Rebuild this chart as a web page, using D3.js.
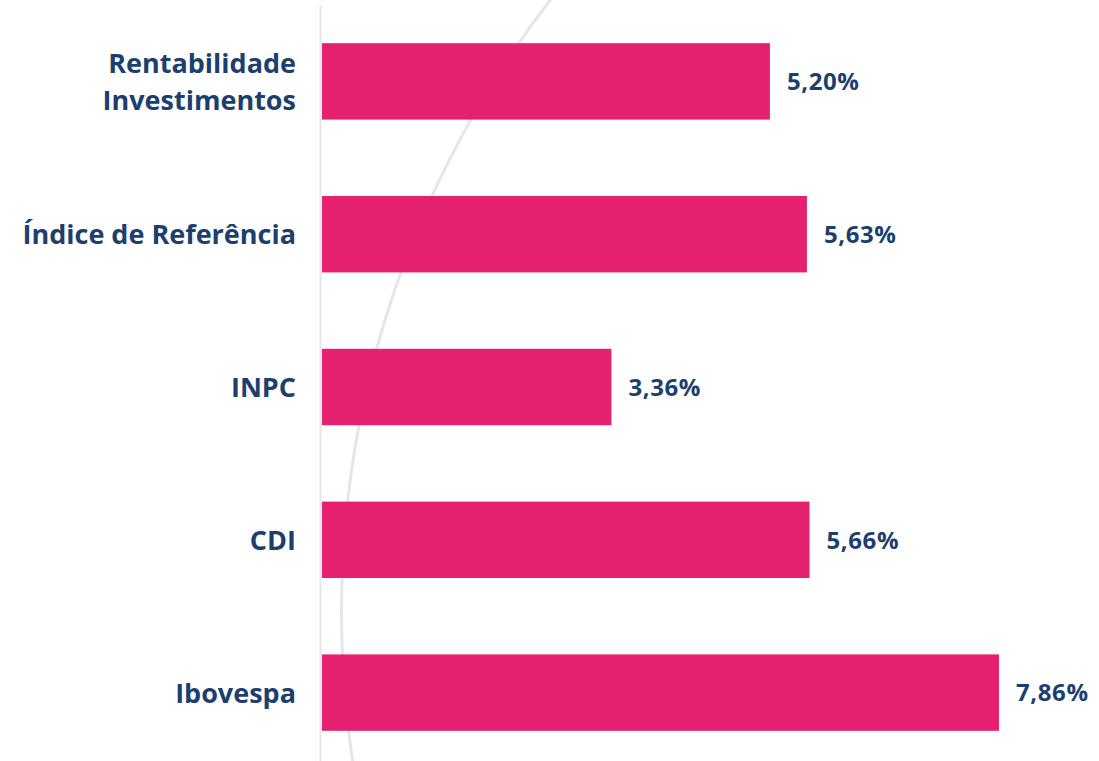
<!DOCTYPE html>
<html>
<head>
<meta charset="utf-8">
<script src="https://cdn.jsdelivr.net/npm/d3@7"></script>
<style>
	body { margin: 0; background: #ffffff; }
	.catLabel { font-family: "Open Sans", sans-serif; font-weight: 700; font-size: 27px; fill: #1d3f6e; }
	.valLabel { font-family: "Open Sans", sans-serif; font-weight: 700; font-size: 24px; letter-spacing: 0.6px; fill: #1d3f6e; }
</style>
</head>
<body>
<script>

//Chart values
let categories = [["Rentabilidade", "Investimentos"], ["Índice de Referência"], ["INPC"], ["CDI"], ["Ibovespa"]];
let values = [5.20, 5.63, 3.36, 5.66, 7.86];
let valueLabels = ["5,20%", "5,63%", "3,36%", "5,66%", "7,86%"];

window.onload = setChart();

function setChart(){

	let width = 1099;
	let height = 761;

	let svg = d3.select("body")
		.append("svg")
		.attr("width", width)
		.attr("height", height);

	//Decorative background arc
	svg.append("path")
		.attr("transform", "translate(1343,612)")
		.attr("d", d3.arc()({innerRadius: 1000, outerRadius: 1003, startAngle: -Math.PI, endAngle: 0}))
		.attr("fill", "#e3e6eb");

	//Scales
	let x = d3.scaleLinear()
		.domain([0, 7.86])
		.range([322, 999]);

	let y = d3.scaleBand()
		.domain(d3.range(values.length))
		.range([5, 769])
		.paddingInner(0.5)
		.paddingOuter(0.25);

	//Vertical axis line
	svg.append("line")
		.attr("x1", 320.5).attr("x2", 320.5)
		.attr("y1", 5).attr("y2", height)
		.attr("stroke", "#e6e6e6")
		.attr("stroke-width", 2);

	//Bars
	svg.selectAll(".bar")
		.data(values)
		.enter()
		.append("rect")
		.attr("class", "bar")
		.attr("x", x(0))
		.attr("y", function(d, i){ return y(i); })
		.attr("width", function(d){ return x(d) - x(0); })
		.attr("height", y.bandwidth())
		.attr("fill", "#e4206f");

	//Value labels
	svg.selectAll(".valLabel")
		.data(values)
		.enter()
		.append("text")
		.attr("class", "valLabel")
		.attr("x", function(d){ return x(d) + 17; })
		.attr("y", function(d, i){ return y(i) + y.bandwidth() / 2; })
		.attr("dy", "0.37em")
		.text(function(d, i){ return valueLabels[i]; });

	//Category labels
	let cats = svg.selectAll(".catLabel")
		.data(categories)
		.enter()
		.append("text")
		.attr("class", "catLabel")
		.attr("text-anchor", "end")
		.attr("y", function(d, i){ return y(i) + y.bandwidth() / 2; });

	cats.selectAll("tspan")
		.data(function(d){ return d; })
		.enter()
		.append("tspan")
		.attr("x", 296)
		.attr("dy", function(d, j, nodes){
			if (nodes.length == 1) return "0.37em";
			return j == 0 ? "-0.3em" : "1.37em";
		})
		.text(function(d){ return d; });
};
</script>
</body>
</html>
